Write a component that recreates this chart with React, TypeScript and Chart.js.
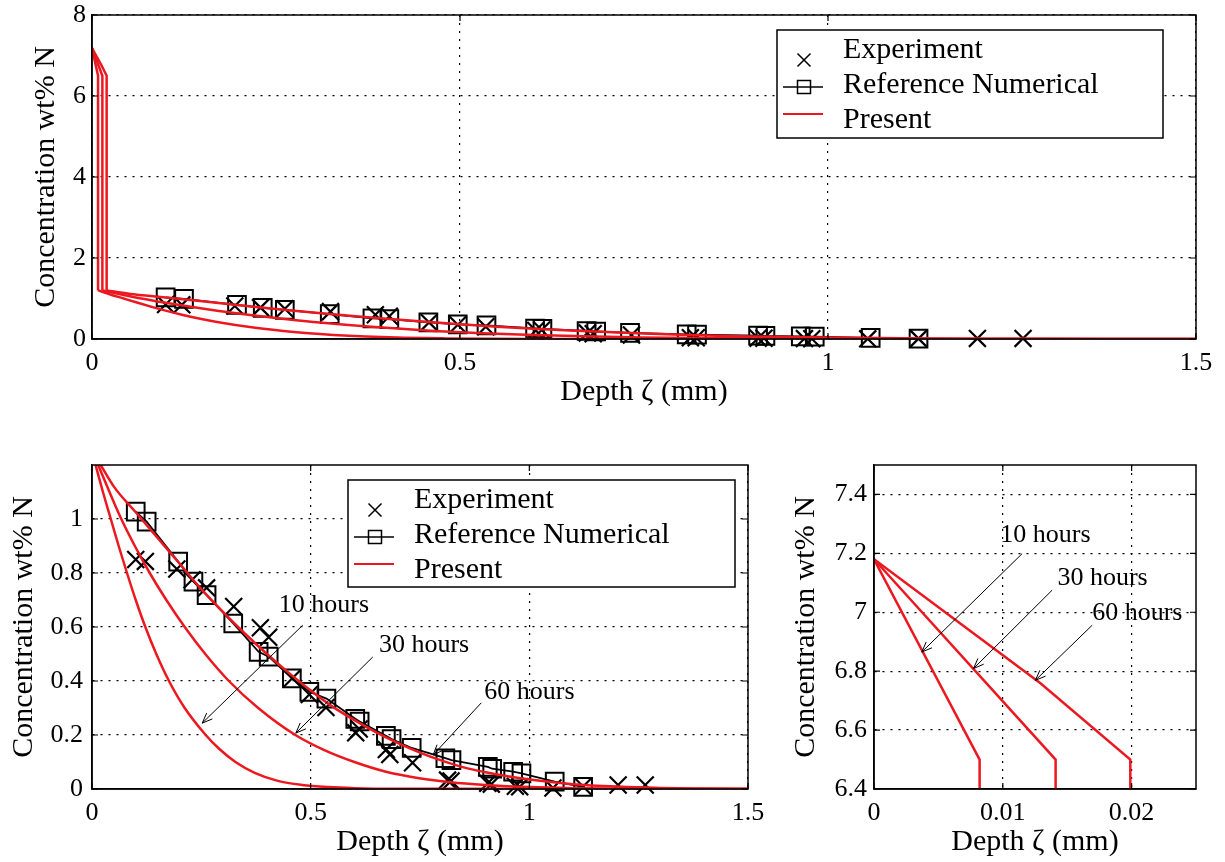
import React, { useEffect, useRef } from 'react';
import { Chart, registerables } from 'chart.js';

Chart.register(...registerables);

const SERIF = "'Liberation Serif', 'Times New Roman', Times, serif";
const RED = 'rgb(236, 24, 32)';

// ---------------- data ----------------
const expX = [0.100, 0.122, 0.194, 0.229, 0.262, 0.324, 0.385, 0.404, 0.458, 0.497, 0.535, 0.603, 0.611, 0.673, 0.681, 0.733, 0.813, 0.821, 0.905, 0.913, 0.968, 0.978, 1.054, 1.123, 1.203, 1.265];
const expY = [0.850, 0.843, 0.815, 0.775, 0.745, 0.676, 0.597, 0.562, 0.410, 0.350, 0.302, 0.208, 0.222, 0.146, 0.128, 0.097, 0.033, 0.030, 0.021, 0.018, 0.010, 0.008, 0.004, 0.009, 0.015, 0.015];

const refX = [0.100, 0.125, 0.197, 0.232, 0.262, 0.323, 0.381, 0.404, 0.457, 0.497, 0.536, 0.602, 0.612, 0.672, 0.685, 0.731, 0.808, 0.822, 0.905, 0.915, 0.963, 0.982, 1.058, 1.123];
const refY = [1.027, 0.990, 0.842, 0.768, 0.718, 0.613, 0.508, 0.490, 0.410, 0.360, 0.335, 0.260, 0.250, 0.197, 0.185, 0.152, 0.114, 0.107, 0.082, 0.075, 0.064, 0.058, 0.027, 0.008];

const p10X = [0, 0.0082, 0.0082, 0.025, 0.043, 0.061, 0.080, 0.100, 0.122, 0.147, 0.176, 0.212, 0.260, 0.290, 0.328, 0.372, 0.425, 0.480, 0.540, 0.600, 0.700, 1.500];
const p10Y = [7.18, 6.50, 1.20, 1.10, 1.00, 0.90, 0.80, 0.70, 0.60, 0.50, 0.40, 0.30, 0.20, 0.15, 0.10, 0.06, 0.030, 0.015, 0.007, 0.003, 0.001, 0];

const p30X = [0, 0.0141, 0.0141, 0.040, 0.067, 0.098, 0.132, 0.170, 0.212, 0.259, 0.313, 0.380, 0.465, 0.530, 0.600, 0.670, 0.748, 0.820, 0.900, 1.000, 1.100, 1.200, 1.500];
const p30Y = [7.18, 6.50, 1.20, 1.10, 1.00, 0.90, 0.80, 0.70, 0.60, 0.50, 0.40, 0.30, 0.20, 0.145, 0.10, 0.065, 0.040, 0.025, 0.015, 0.007, 0.003, 0.001, 0];

const p60X = [0, 0.0129, 0.0199, 0.0199, 0.05, 0.10, 0.15, 0.20, 0.25, 0.30, 0.35, 0.40, 0.45, 0.50, 0.55, 0.60, 0.65, 0.70, 0.75, 0.80, 0.85, 0.90, 0.95, 1.00, 1.10, 1.20, 1.30, 1.40, 1.50];
const p60Y = [7.18, 6.76, 6.50, 1.20, 1.12, 1.025, 0.93, 0.835, 0.74, 0.655, 0.575, 0.50, 0.43, 0.365, 0.305, 0.255, 0.21, 0.17, 0.135, 0.105, 0.08, 0.062, 0.047, 0.035, 0.018, 0.009, 0.004, 0.002, 0.001];

const legendLabels = ['Experiment', 'Reference Numerical', 'Present'];
const yTitle = 'Concentration wt% N';
const xTitle = 'Depth ζ (mm)';

const topXTicks = [0, 0.5, 1, 1.5];
const topXLabels = ['0', '0.5', '1', '1.5'];
const topYTicks = [0, 2, 4, 6, 8];
const topYLabels = ['0', '2', '4', '6', '8'];

const blXTicks = [0, 0.5, 1, 1.5];
const blXLabels = ['0', '0.5', '1', '1.5'];
const blYTicks = [0, 0.2, 0.4, 0.6, 0.8, 1.0];
const blYLabels = ['0', '0.2', '0.4', '0.6', '0.8', '1'];

const brXTicks = [0, 0.01, 0.02];
const brXLabels = ['0', '0.01', '0.02'];
const brYTicks = [6.4, 6.6, 6.8, 7.0, 7.2, 7.4];
const brYLabels = ['6.4', '6.6', '6.8', '7', '7.2', '7.4'];

const hourLabels = ['10 hours', '30 hours', '60 hours'];
const blTextX = [0.427, 0.656, 0.897];
const blTextY = [0.68, 0.533, 0.36];
const blArrowFromX = [0.482, 0.642, 0.89];
const blArrowFromY = [0.607, 0.489, 0.319];
const blArrowToX = [0.252, 0.466, 0.78];
const blArrowToY = [0.244, 0.207, 0.126];

const brTextX = [0.0098, 0.01424, 0.01694];
const brTextY = [7.261, 7.115, 6.997];
const brArrowFromX = [0.0115, 0.01383, 0.01694];
const brArrowFromY = [7.199, 7.075, 6.956];
const brArrowToX = [0.00371, 0.00773, 0.01253];
const brArrowToY = [6.865, 6.809, 6.769];

// ---------------- helpers ----------------
const pts = (xs: number[], ys: number[]) => xs.map((x, i) => ({ x, y: ys[i] }));

const redLine = (data: any[], smooth: boolean) => ({
  label: legendLabels[2],
  data,
  showLine: true,
  borderColor: RED,
  backgroundColor: RED,
  borderWidth: 2.5,
  pointRadius: 0,
  tension: 0,
  cubicInterpolationMode: smooth ? 'monotone' : 'default',
});

const presentSets = () => {
  const out: any[] = [];
  for (const [xs, ys] of [[p10X, p10Y], [p30X, p30Y], [p60X, p60Y]] as number[][][]) {
    const all = pts(xs, ys);
    const k = ys.findIndex((v) => v <= 1.2);
    out.push(redLine(all.slice(0, k + 1), false));
    out.push(redLine(all.slice(k), true));
  }
  return out;
};

const markerSets = () => [
  {
    label: legendLabels[1],
    data: pts(refX, refY),
    showLine: true,
    borderColor: '#000',
    backgroundColor: 'rgba(0,0,0,0)',
    borderWidth: 1.8,
    pointStyle: 'rect',
    pointRadius: 12.5,
    pointBorderWidth: 2,
    pointBorderColor: '#000',
    pointBackgroundColor: 'rgba(0,0,0,0)',
    clip: false,
  },
  {
    label: legendLabels[0],
    data: pts(expX, expY),
    showLine: false,
    borderColor: '#000',
    backgroundColor: 'rgba(0,0,0,0)',
    pointStyle: 'crossRot',
    pointRadius: 12,
    pointBorderWidth: 2.2,
    pointBorderColor: '#000',
    clip: false,
  },
];

const framePlugin = {
  id: 'frame',
  afterDraw(chart: any) {
    const { ctx, chartArea: a, scales } = chart;
    ctx.save();
    ctx.strokeStyle = '#000';
    ctx.lineWidth = 1.2;
    const tl = 6;
    ctx.beginPath();
    scales.x.ticks.forEach((t: any) => {
      const p = scales.x.getPixelForValue(t.value);
      ctx.moveTo(p, a.bottom);
      ctx.lineTo(p, a.bottom - tl);
      ctx.moveTo(p, a.top);
      ctx.lineTo(p, a.top + tl);
    });
    scales.y.ticks.forEach((t: any) => {
      const p = scales.y.getPixelForValue(t.value);
      ctx.moveTo(a.left, p);
      ctx.lineTo(a.left + tl, p);
      ctx.moveTo(a.right, p);
      ctx.lineTo(a.right - tl, p);
    });
    ctx.stroke();
    ctx.lineWidth = 1.5;
    ctx.strokeRect(a.left, a.top, a.right - a.left, a.bottom - a.top);
    ctx.restore();
  },
};

const legendPlugin = {
  id: 'mlegend',
  afterDraw(chart: any, _args: any, o: any) {
    if (!o || !o.show) return;
    const { ctx } = chart;
    const { x, y, w, h } = o;
    ctx.save();
    ctx.fillStyle = '#fff';
    ctx.fillRect(x, y, w, h);
    ctx.strokeStyle = '#000';
    ctx.lineWidth = 1.5;
    ctx.strokeRect(x, y, w, h);
    const mx = x + 27;
    ctx.lineWidth = 1.5;
    ctx.beginPath();
    const s = 6.5;
    const cy = y + 30;
    ctx.moveTo(mx - s, cy - s);
    ctx.lineTo(mx + s, cy + s);
    ctx.moveTo(mx + s, cy - s);
    ctx.lineTo(mx - s, cy + s);
    ctx.stroke();
    const ry = y + 57;
    ctx.beginPath();
    ctx.moveTo(x + 6, ry);
    ctx.lineTo(x + 46, ry);
    ctx.stroke();
    ctx.strokeRect(mx - s, ry - s, 2 * s, 2 * s);
    ctx.strokeStyle = RED;
    ctx.lineWidth = 2;
    ctx.beginPath();
    ctx.moveTo(x + 6, y + 84);
    ctx.lineTo(x + 46, y + 84);
    ctx.stroke();
    ctx.fillStyle = '#000';
    ctx.font = `30px ${SERIF}`;
    ctx.textBaseline = 'middle';
    ctx.textAlign = 'left';
    legendLabels.forEach((t, i) => ctx.fillText(t, x + 66, y + 20 + 35 * i));
    ctx.restore();
  },
};

const annotPlugin = {
  id: 'annot',
  afterDraw(chart: any, _args: any, o: any) {
    if (!o || !o.show) return;
    const { ctx, scales } = chart;
    const X = scales.x, Y = scales.y;
    ctx.save();
    ctx.font = `26px ${SERIF}`;
    ctx.fillStyle = '#000';
    ctx.strokeStyle = '#000';
    ctx.lineWidth = 1;
    ctx.textBaseline = 'middle';
    ctx.textAlign = 'left';
    for (let i = 0; i < o.labels.length; i++) {
      ctx.fillText(o.labels[i], X.getPixelForValue(o.tx[i]), Y.getPixelForValue(o.ty[i]));
      const x1 = X.getPixelForValue(o.fx[i]);
      const y1 = Y.getPixelForValue(o.fy[i]);
      const x2 = X.getPixelForValue(o.ex[i]);
      const y2 = Y.getPixelForValue(o.ey[i]);
      const ang = Math.atan2(y2 - y1, x2 - x1);
      const L = 11;
      ctx.beginPath();
      ctx.moveTo(x1, y1);
      ctx.lineTo(x2, y2);
      for (const sgn of [-1, 1]) {
        ctx.moveTo(x2, y2);
        ctx.lineTo(x2 - L * Math.cos(ang + sgn * 0.38), y2 - L * Math.sin(ang + sgn * 0.38));
      }
      ctx.stroke();
    }
    ctx.restore();
  },
};

type AxisOpt = {
  min: number; max: number; ticks: number[]; labels: string[]; title: string;
  size: number; tickPad: number; titlePad: number;
};

const makeScale = (axis: 'x' | 'y', a: AxisOpt) => ({
  type: 'linear',
  position: axis === 'x' ? 'bottom' : 'left',
  min: a.min,
  max: a.max,
  afterBuildTicks: (s: any) => {
    s.ticks = a.ticks.map((v) => ({ value: v }));
  },
  afterFit: (s: any) => {
    if (axis === 'x') s.height = a.size;
    else s.width = a.size;
    s.paddingTop = 0;
    s.paddingBottom = 0;
    s.paddingLeft = 0;
    s.paddingRight = 0;
  },
  ticks: {
    autoSkip: false,
    maxRotation: 0,
    minRotation: 0,
    padding: a.tickPad,
    color: '#000',
    font: { family: SERIF, size: 26 },
    callback: (_v: any, i: number) => a.labels[i],
  },
  grid: { color: '#000', lineWidth: 1.2, drawTicks: false },
  border: { display: true, color: '#000', width: 1.5, dash: [2, 6] },
  title: {
    display: true,
    text: a.title,
    color: '#000',
    font: { family: SERIF, size: 30 },
    padding: { top: a.titlePad, bottom: a.titlePad },
  },
});

const makeConfig = (datasets: any[], pad: any, xA: AxisOpt, yA: AxisOpt, legend: any, annot: any) => ({
  type: 'scatter',
  data: { datasets },
  options: {
    responsive: false,
    animation: false,
    devicePixelRatio: 1,
    layout: { padding: pad },
    scales: { x: makeScale('x', xA), y: makeScale('y', yA) },
    plugins: {
      legend: { display: false },
      tooltip: { enabled: false },
      mlegend: legend,
      annot,
    },
  },
  plugins: [framePlugin, legendPlugin, annotPlugin],
});

function ChartCanvas({ left, top, width, height, build }: any) {
  const ref = useRef<HTMLCanvasElement | null>(null);
  useEffect(() => {
    const chart = new Chart(ref.current as HTMLCanvasElement, build());
    return () => chart.destroy();
  }, []);
  return (
    <canvas
      ref={ref}
      width={width}
      height={height}
      style={{ position: 'absolute', left, top, width, height }}
    />
  );
}

const buildTop = () =>
  makeConfig(
    [...presentSets(), ...markerSets()],
    { left: 0, top: 15, right: 29, bottom: 0 },
    { min: 0, max: 1.5, ticks: topXTicks, labels: topXLabels, title: xTitle, size: 76, tickPad: 9, titlePad: 5 },
    { min: 0, max: 8, ticks: topYTicks, labels: topYLabels, title: yTitle, size: 92, tickPad: 6, titlePad: 28 },
    { show: true, x: 777, y: 30, w: 386, h: 108 },
    { show: false }
  );

const buildBL = () =>
  makeConfig(
    [...presentSets(), ...markerSets()],
    { left: 0, top: 45, right: 22, bottom: 0 },
    { min: 0, max: 1.5, ticks: blXTicks, labels: blXLabels, title: xTitle, size: 73, tickPad: 9, titlePad: 2 },
    { min: 0, max: 1.2, ticks: blYTicks, labels: blYLabels, title: yTitle, size: 92, tickPad: 9, titlePad: 6 },
    { show: true, x: 348, y: 60, w: 387, h: 107 },
    {
      show: true, labels: hourLabels, tx: blTextX, ty: blTextY,
      fx: blArrowFromX, fy: blArrowFromY, ex: blArrowToX, ey: blArrowToY,
    }
  );

const buildBR = () =>
  makeConfig(
    presentSets(),
    { left: 0, top: 45, right: 29, bottom: 0 },
    { min: 0, max: 0.025, ticks: brXTicks, labels: brXLabels, title: xTitle, size: 73, tickPad: 9, titlePad: 2 },
    { min: 6.4, max: 7.5, ticks: brYTicks, labels: brYLabels, title: yTitle, size: 104, tickPad: 7, titlePad: 18 },
    { show: false },
    {
      show: true, labels: hourLabels, tx: brTextX, ty: brTextY,
      fx: brArrowFromX, fy: brArrowFromY, ex: brArrowToX, ey: brArrowToY,
    }
  );

export default function App() {
  return (
    <div style={{ position: 'fixed', left: 0, top: 0, width: 1225, height: 862, background: '#fff', overflow: 'hidden' }}>
      <ChartCanvas left={0} top={0} width={1225} height={415} build={buildTop} />
      <ChartCanvas left={0} top={420} width={770} height={442} build={buildBL} />
      <ChartCanvas left={770} top={420} width={455} height={442} build={buildBR} />
    </div>
  );
}
